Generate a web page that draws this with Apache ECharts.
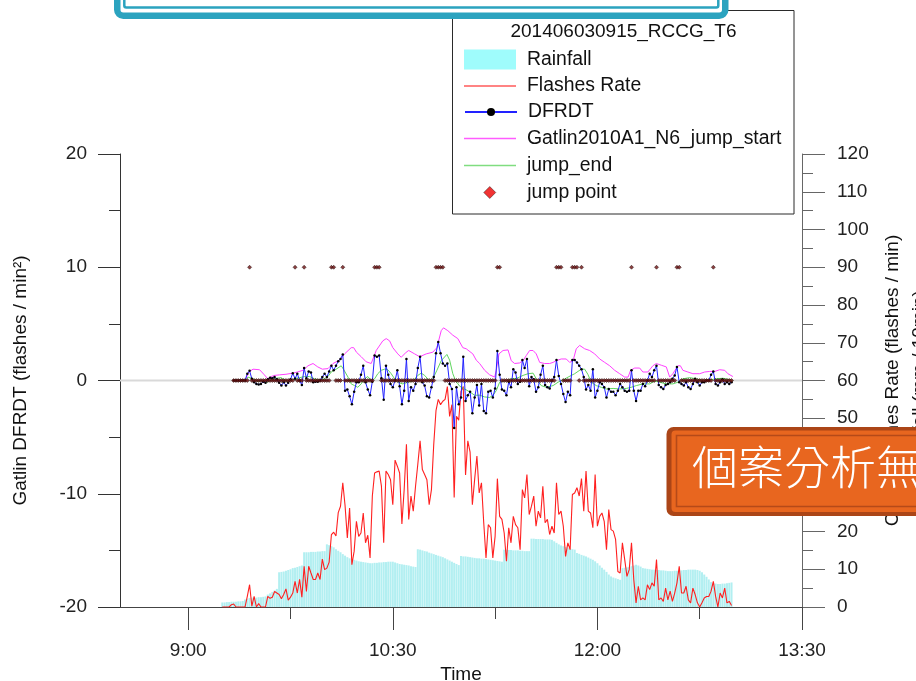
<!DOCTYPE html>
<html>
<head>
<meta charset="utf-8">
<title>201406030915_RCCG_T6</title>
<script src="https://cdn.jsdelivr.net/npm/echarts@6/dist/echarts.min.js"></script>
<style>
  html, body { margin: 0; padding: 0; background: #ffffff; }
  #chart { width: 916px; height: 681px; }
</style>
</head>
<body>
<div id="chart"></div>
<script>
// Times are minutes after 09:00; one sample per minute unless paired with a times array.

// Rainfall (mm / 10min), one value per minute starting 09:15
const rainStart = 15;
const rainfall = [
  1.2, 1.2, 1.3, 1.3, 1.4, 1.4, 1.4, 1.5, 1.5, 1.6,
  2.0, 2.2, 2.4, 2.5, 2.5, 2.5, 2.6, 2.6, 2.7, 2.8,
  3.3, 3.6, 4.0, 4.4, 4.8, 9.2, 9.3, 9.4, 9.6, 9.8,
  10.0, 10.3, 10.4, 10.6, 10.8, 11.0, 14.5, 14.5, 14.5, 14.6,
  14.6, 14.6, 14.7, 14.7, 14.8, 14.8, 16.6, 16.4, 16.1, 15.8,
  15.3, 14.9, 14.5, 14.0, 13.6, 13.2, 12.9, 12.7, 12.5, 12.3,
  12.1, 12.0, 11.9, 11.8, 11.7, 11.6, 11.6, 11.7, 11.7, 11.8,
  11.8, 11.9, 11.9, 12.0, 12.0, 12.0, 11.8, 11.6, 11.4, 11.3,
  11.2, 11.1, 11.0, 10.8, 10.7, 10.6, 15.3, 15.2, 15.0, 14.8,
  14.7, 14.4, 14.2, 14.0, 13.8, 13.6, 13.4, 13.2, 12.9, 12.6,
  12.3, 12.0, 11.7, 11.4, 11.1, 13.5, 13.4, 13.4, 13.3, 13.2,
  13.1, 13.0, 12.9, 12.9, 12.8, 12.8, 12.7, 12.6, 12.5, 12.4,
  12.3, 12.2, 12.1, 12.0, 15.2, 15.2, 15.1, 15.1, 15.0, 15.0,
  15.0, 14.9, 14.9, 14.8, 14.8, 14.8, 18.1, 18.1, 18.0, 18.0,
  18.0, 18.0, 17.9, 17.9, 17.9, 17.8, 17.4, 17.0, 16.6, 16.3,
  16.1, 15.9, 15.7, 15.5, 15.3, 15.2, 14.3, 14.1, 13.8, 13.6,
  13.4, 13.1, 12.8, 12.5, 12.1, 11.6, 11.0, 10.4, 9.9, 9.3,
  8.6, 8.1, 7.8, 7.6, 7.4, 7.2, 10.3, 10.4, 10.5, 10.6,
  10.8, 11.0, 11.2, 11.0, 10.7, 10.3, 10.2, 10.1, 10.0, 9.9,
  9.9, 9.8, 9.8, 9.7, 9.7, 9.6, 9.5, 9.5, 9.5, 9.6,
  9.6, 9.7, 9.7, 9.8, 9.8, 9.9, 9.9, 9.9, 9.9, 9.8,
  9.6, 9.2, 8.6, 8.0, 7.3, 6.6, 6.3, 6.2, 6.1, 6.1,
  6.2, 6.2, 6.3, 6.4, 6.5
];

// Flashes rate (flashes / min), one value per minute starting 09:15
const flashStart = 15;
const flashRate = [
  0, 0, 0, 0, 0.6, 0.8, 0, 0, 0, 0,
  0, 2.8, 5.9, 0.2, 2.8, 0, 0.9, 0, 0, 0,
  2.8, 2.3, 2.6, 4.1, 3.7, 3.3, 2.2, 3.3, 4.8, 1.8,
  2.6, 3.7, 6.8, 3.7, 7.3, 2.6, 10.8, 4.1, 10.8, 9.0,
  7.3, 7.3, 9.0, 7.3, 12.7, 9.9, 10.3, 11.9, 19.2, 19.8,
  18.8, 25.0, 26.7, 32.9, 26.9, 18.3, 26.2, 11.2, 14.8, 22.7,
  18.7, 19.6, 24.9, 17.0, 19.0, 13.0, 29.4, 35.5, 35.8, 36.0,
  32.0, 17.0, 36.0, 35.1, 33.7, 27.1, 38.9, 37.3, 35.5, 22.0,
  31.1, 43.1, 23.2, 29.4, 25.4, 32.0, 37.8, 44.0, 36.4, 35.1,
  33.7, 27.1, 31.1, 43.0, 52.0, 55.0, 53.6, 54.5, 55.0, 58.4,
  50.5, 53.6, 29.0, 50.5, 49.5, 57.1, 58.4, 35.0, 44.0, 41.0,
  27.1, 33.8, 40.0, 30.2, 32.9, 22.3, 13.0, 21.8, 21.0, 13.0,
  18.7, 34.0, 24.0, 23.2, 19.6, 12.1, 21.0, 17.0, 24.0, 21.8,
  21.0, 15.2, 31.1, 28.9, 35.1, 24.5, 26.7, 29.4, 21.4, 25.4,
  23.6, 32.0, 22.3, 23.2, 19.2, 21.4, 19.6, 32.9, 24.5, 25.4,
  21.4, 13.4, 17.0, 15.2, 29.8, 30.2, 31.6, 29.4, 34.0, 25.4,
  36.0, 25.4, 24.9, 21.0, 35.1, 21.4, 24.0, 24.9, 22.7, 15.2,
  25.8, 20.5, 20.1, 17.9, 9.4, 9.0, 17.0, 12.6, 8.1, 9.9,
  17.0, 7.3, 1.1, 5.5, 1.9, 2.4, 1.9, 5.9, 4.6, 6.4,
  5.5, 12.6, 1.9, 2.4, 1.5, 5.0, 1.9, 4.2, 1.5, 3.7,
  6.4, 10.8, 3.7, 3.7, 5.5, 1.9, 1.1, 5.0, 3.3, 1.1,
  0, 1.1, 2.4, 2.8, 2.8, 4.2, 6.8, 2.8, 0, 3.7,
  2.4, 5.0, 1.1, 1.5, 0.4
];

// Gatlin DFRDT (flashes / min^2), one value per minute starting 09:20
const dfrdtStart = 20;
const dfrdt = [
  0, 0, 0, 0, 0, 0, 0.6, 0.85, 0.15, -0.15,
  -0.3, -0.35, -0.3, -0.1, -0.2, 0.1, 0.25, 0.2, 0.3, 0.1,
  -0.2, -0.45, -0.15, -0.45, -0.2, 0.1, 0.65, 0.15, 0.6, 0,
  -0.4, 1.1, 0.2, 0.8, 0.7, -0.15, -0.1, -0.1, 0, 0.3,
  0.6, 0.3, 0.8, 1.3, 0.9, 1.3, 1.7, 1.9, 2.3, -0.9,
  -0.8, -1.4, -2.1, -1.0, -0.15, -0.15, 0.5, 1.3, -0.15, -0.8,
  -1.3, -0.1, 2.2, 2.1, 2.2, 0.2, -1.7, 1.3, 0.5, -0.3,
  -0.6, 0, 0.9, -0.5, -2.1, -0.9, 1.9, -1.8, -0.6, -0.9,
  -0.3, 1.1, 2.1, -0.15, -0.45, -1.4, -1.5, -0.6, 0.3, 2.4,
  3.4, 2.4, 1.5, 1.3, 1.5, -0.3, -0.75, -4.2, -0.6, -2.1,
  -1.5, 2.1, -1.8, -1.3, -1.0, -2.9, -1.5, -0.4, -2.2, -0.3,
  -2.7, -2.9, -1.0, -0.9, -1.5, -0.7, 2.6, 0.5, -0.8, -0.9,
  -1.3, -0.1, -0.6, 1.0, 0.7, -0.3, -0.1, 1.8, 1.1, 1.9,
  -0.5, 0.3, 0.1, -1.0, -0.6, 0.5, 1.3, -0.4, -0.6, -0.7,
  0, 0.3, 1.8, 0.4, -0.3, -1.2, -1.9, -1.0, -1.3, 1.8,
  1.8, 1.6, 1.3, 1.0, 0.3, -0.8, -0.4, -0.9, 1.0, -1.5,
  -0.9, -0.15, -0.3, -0.6, -1.5, -0.75, -1.0, -1.0, -1.3, -0.9,
  -0.3, -0.6, -0.9, -1.0, -0.9, 0.9, -0.9, -1.8, -0.9, -0.9,
  -0.3, -0.5, 0, 0.6, 0.3, 0.9, 1.3, -0.4, -0.6, -0.75,
  -0.4, -0.3, -0.15, 0.15, 0.45, 1.2, -0.15, -0.3, -0.45, -0.15,
  -0.6, -0.75, -0.3, 0.15, -0.15, -0.45, -0.15, -0.15, 0, 0,
  0.5, 0.8, -0.3, -0.45, -0.15, 0.1, -0.3, -0.15, -0.3, -0.15
];

// Gatlin2010A1_N6 jump start threshold
const gatlinTimes = [
  25, 26.7, 28.5, 31.4, 33.5, 35, 36.5, 38, 40.2, 43, 46, 48, 50.5, 52.7, 54.9, 57, 59, 61.5,
  63.7, 66.6, 68.8, 71.7, 72.8, 74, 76.1, 78.3, 80.5, 81.3, 82.7, 85.6, 87.1, 88.6, 90, 92.2,
  93.7, 95.9, 97, 99.6, 101.8, 104.7, 107.6, 109.4, 111.3, 112.3, 114.2, 116.4, 118.6, 120.8,
  122.3, 125.2, 126.7, 128.2, 130.4, 132.6, 134.8, 135.5, 136.7, 138.5, 140.7, 142.1, 143.6,
  145.8, 147.3, 148.7, 150.2, 151.7, 153.1, 154.6, 156.8, 159, 160.5, 161.9, 164.1, 166.3,
  167.8, 169.3, 170.7, 172.2, 174.4, 176.6, 178.8, 181, 183.2, 185.4, 187.6, 189.8, 192,
  193.5, 194.6, 196.4, 198.6, 200, 202.2, 204.4, 205.9, 208.1, 210.3, 211.8, 213.2, 215.4,
  216.5, 217.6, 219.8, 222, 225, 227.2, 229.4, 231.6, 233.8, 236, 237.4, 239.6
];
const gatlinValues = [
  0, 0.75, 1.0, 0.95, 0.5, 0.15, 0.35, 0.45, 0.5, 0.55, 0.65, 0.75, 0.9, 1.3, 1.5, 1.2, 1.0, 1.05,
  1.5, 1.8, 2.35, 2.9, 2.9, 2.5, 2.1, 1.65, 1.5, 1.5, 2.65, 3.5, 3.7, 3.5, 2.9, 2.35,
  2.05, 2.5, 2.65, 2.35, 2.1, 2.35, 2.5, 2.9, 4.4, 4.65, 4.4, 4.0, 3.7, 2.9,
  2.8, 2.35, 1.8, 1.5, 0.9, 0.5, 0.3, 0.9, 2.35, 2.65, 2.7, 1.75, 1.5,
  1.55, 1.75, 2.2, 2.65, 2.65, 2.35, 1.6, 1.5, 1.5, 1.6, 1.75, 1.9, 1.9,
  1.6, 1.75, 2.8, 3.1, 2.8, 2.65, 2.35, 1.9, 1.6, 1.3, 0.9, 0.6, 0.3,
  0.3, 0.9, 1.1, 1.1, 0.75, 0.75, 1.3, 1.5, 1.35, 1.2, 0.3, 0.6, 1.3,
  1.3, 0.9, 0.75, 0.6, 0.6, 0.75, 0.8, 0.8, 0.95, 0.9, 0.6, 0.35
];

// jump end threshold
const jumpEndTimes = [
  25, 26.3, 28.5, 30.7, 32.1, 34.3, 36.5, 38.7, 40.9, 43.1, 45.3, 47.5, 49, 51.2, 53.4, 55.6,
  57.8, 60, 61.5, 62.9, 65.1, 67.3, 68.3, 70.3, 71.7, 73.2, 74.6, 76.1, 77.6, 79, 80.5, 82,
  83.4, 84.9, 86.4, 87.8, 89.3, 90.8, 92.2, 94.4, 96.6, 98.8, 101, 102.5, 104, 106.2, 107.6,
  109.4, 111.3, 113.8, 115, 116.4, 117.6, 119.4, 121.6, 123.8, 126, 128.2, 130.4, 132.6,
  134.1, 135.5, 137, 139.9, 142.1, 144.6, 147.3, 149.5, 151.7, 153.1, 155.3, 157.5, 160.5,
  162.7, 164.9, 167.1, 170, 172.9, 174.4, 175.8, 177.3, 179.5, 181.7, 183.9, 186.9, 189.8,
  192.7, 194.9, 197.1, 200, 203, 205.2, 207.4, 210.3, 213.2, 215.4, 217.6, 220.6, 223.5,
  226.4, 229.4, 232.3, 235.2, 239.6
];
const jumpEndValues = [
  0, 0.3, 0.15, -0.1, 0, -0.2, 0.05, 0.2, 0.25, -0.05, 0, 0.2, 0.25, 0.35, 0.35, 0.15,
  0.05, 0.15, 0.35, 0.75, 1.0, 1.3, 1.0, 0.3, -0.3, -0.45, -0.6, -0.3, 0.15, 0.35, 0, 0.15,
  0.6, 0.9, 1.0, 0.95, 0.6, 0.15, -0.15, -0.3, -0.15, -0.05, 0.45, 0.65, 0.45, -0.05, 0.15,
  0.9, 1.75, 2.3, 1.8, 0.6, 0.0, -0.5, -0.75, -1.0, -1.3, -1.3, -1.45, -1.5,
  -1.3, -0.9, -0.15, 0, 0.15, 0.2, 0.45, 0.6, 0.65, 0.15, -0.45, -0.6, -0.45,
  -0.15, 0.05, 0.3, 0.6, 1.0, 1.0, 0.55, -0.15, -0.45, -0.6, -0.75, -0.7, -0.75,
  -0.7, -0.6, -0.45, -0.3, -0.3, -0.05, -0.15, -0.3, -0.3, -0.15, 0.15, 0.25, 0.15,
  0, 0.05, 0.15, 0.2, 0
];

// Jump flags: sampled every minute from 09:20 to 12:59, raised to 10 at the listed minutes
const flagStart = 20;
const flagEnd = 239;
const jumpMinutes = [27, 47, 51, 63, 64, 68, 82, 83, 84, 109, 110, 111, 112, 136, 137,
  162, 163, 164, 169, 170, 171, 173, 195, 206, 215, 216, 231];
const flagLow = 0;
const flagHigh = 10;

// Axis ticks
const timeTicks = [0, 90, 180, 270];
const timeMinorTicks = [45, 135, 225];

const FONT = '"Liberation Sans", Arial, Helvetica, sans-serif';
const CJK = '"Noto Sans CJK TC", "Noto Sans CJK SC", "Noto Sans CJK JP", sans-serif';

const perMinute = (start, values) => values.map((v, i) => [start + i, v]);
const paired = (times, values) => times.map((t, i) => [t, values[i]]);
const clock = v => {
  const m = 540 + v;
  return Math.floor(m / 60) + ':' + String(m % 60).padStart(2, '0');
};

const flags = [];
for (let t = flagStart; t <= flagEnd; t++) {
  flags.push([t, jumpMinutes.indexOf(t) >= 0 ? flagHigh : flagLow]);
}

const legendText = { fontSize: 19.4, fontFamily: FONT, color: '#111', lineHeight: 20, padding: [0, 0, 0, 6] };
const legendRow = (data, top, extra) => Object.assign({
  data: data, left: 464, top: top, padding: 0, itemWidth: 52, itemHeight: 10,
  selectedMode: false, textStyle: legendText
}, extra || {});

const chart = echarts.init(document.getElementById('chart'), null, { renderer: 'canvas' });

chart.setOption({
  animation: false,
  backgroundColor: '#ffffff',
  textStyle: { fontFamily: FONT },
  grid: { left: 120, right: 114, top: 154, bottom: 74, outerBoundsMode: 'none', containLabel: false },
  xAxis: [
    {
      type: 'value', min: -30, max: 270, position: 'bottom',
      axisLine: { show: true, onZero: false, lineStyle: { color: '#444', width: 1 } },
      axisTick: { show: true, customValues: timeTicks, length: 23, lineStyle: { color: '#444', width: 1 } },
      axisLabel: { show: true, customValues: timeTicks, formatter: clock, margin: 34,
        fontSize: 19, fontFamily: FONT, color: '#222' },
      splitLine: { show: false },
      name: 'Time', nameLocation: 'middle', nameGap: 54,
      nameTextStyle: { fontSize: 19, fontFamily: FONT, color: '#111', lineHeight: 20 }
    },
    {
      type: 'value', min: -30, max: 270, position: 'bottom',
      axisLine: { show: false, onZero: false },
      axisTick: { show: true, customValues: timeMinorTicks, length: 12, lineStyle: { color: '#444', width: 1 } },
      axisLabel: { show: false },
      splitLine: { show: false }
    }
  ],
  yAxis: [
    {
      type: 'value', min: -20, max: 20, interval: 10, position: 'left',
      axisLine: { show: true, onZero: false, lineStyle: { color: '#333', width: 1 } },
      axisTick: { show: true, length: 22, lineStyle: { color: '#333', width: 1 } },
      minorTick: { show: true, splitNumber: 2, length: 11, lineStyle: { color: '#333', width: 1 } },
      axisLabel: { margin: 33, fontSize: 19, fontFamily: FONT, color: '#222' },
      splitLine: { show: false },
      name: 'Gatlin DFRDT (flashes / min²)', nameLocation: 'middle', nameGap: 89,
      nameTextStyle: { fontSize: 19, fontFamily: FONT, color: '#111', lineHeight: 20 }
    },
    {
      type: 'value', min: 0, max: 120, interval: 10, position: 'right',
      axisLine: { show: true, onZero: false, lineStyle: { color: '#666', width: 1 } },
      axisTick: { show: true, length: 23, lineStyle: { color: '#666', width: 1 } },
      minorTick: { show: true, splitNumber: 2, length: 11, lineStyle: { color: '#666', width: 1 } },
      axisLabel: { margin: 35, fontSize: 19, fontFamily: FONT, color: '#222' },
      splitLine: { show: false },
      name: 'Cloud Flashes Rate (flashes / min)\nRainfall (mm / 10min)',
      nameLocation: 'middle', nameGap: 66,
      nameTextStyle: { fontSize: 19, fontFamily: FONT, color: '#111', lineHeight: 27 }
    }
  ],
  legend: [
    legendRow([{ name: 'Rainfall', icon: 'rect', itemStyle: { color: '#9ffcfc' } }], 49.5, { itemHeight: 20 }),
    legendRow([{ name: 'Flashes Rate', icon: 'rect', itemStyle: { color: '#ff5a5a' } }], 76, { itemHeight: 1.4 }),
    legendRow(['DFRDT'], 102, { itemHeight: 10 }),
    legendRow([{ name: 'Gatlin2010A1_N6_jump_start', icon: 'rect', itemStyle: { color: '#ff5cff' } }], 128.5, { itemHeight: 1.4 }),
    legendRow([{ name: 'jump_end', icon: 'rect', itemStyle: { color: '#80dd80' } }], 155.5, { itemHeight: 1.4 }),
    legendRow([{ name: 'jump point', icon: 'diamond',
      itemStyle: { color: '#ee0000', borderColor: '#000', borderWidth: 0.5 } }], 182.5,
      { left: 483.5, itemWidth: 12, itemHeight: 12,
        textStyle: Object.assign({}, legendText, { padding: [0, 0, 0, 26.5] }) })
  ],
  graphic: {
    elements: [
      // legend frame and title
      { type: 'rect', z: 1, shape: { x: 452.5, y: 10.5, width: 341.5, height: 203.5 },
        style: { fill: '#ffffff', stroke: '#2a2a2a', lineWidth: 1 } },
      { type: 'text', z: 2, style: { x: 623.5, y: 32, text: '201406030915_RCCG_T6',
        font: '19px ' + FONT, fill: '#111', align: 'center', verticalAlign: 'middle' } },
      // slide title frame
      { type: 'rect', z: 20, shape: { x: 117.25, y: -50, width: 608, height: 65.75, r: 6 },
        style: { fill: '#ffffff', stroke: '#2ba3bf', lineWidth: 6.5 } },
      { type: 'rect', z: 21, shape: { x: 124.3, y: -50, width: 594, height: 57.5, r: 2 },
        style: { fill: 'none', stroke: '#2ba3bf', lineWidth: 2.5 } },
      // orange caption box
      { type: 'rect', z: 30, shape: { x: 666.5, y: 427, width: 300, height: 89, r: 7 },
        style: { fill: '#ab4517' } },
      { type: 'rect', z: 31, shape: { x: 671.5, y: 430.5, width: 300, height: 81.5, r: 4 },
        style: { fill: '#e8661f' } },
      { type: 'rect', z: 32, shape: { x: 676.5, y: 435.5, width: 300, height: 71 },
        style: { fill: 'none', stroke: '#b54a19', lineWidth: 1.6 } },
      { type: 'text', z: 33, style: { x: 692, y: 467, text: '個案分析無',
        font: '300 46px ' + CJK, fill: '#ffffff', align: 'left', verticalAlign: 'middle' } }
    ]
  },
  series: [
    {
      name: 'Rainfall', type: 'bar', xAxisIndex: 0, yAxisIndex: 1,
      data: perMinute(rainStart, rainfall), barWidth: 2,
      itemStyle: { color: '#b2eff1' }, z: 1, silent: true
    },
    {
      name: 'zero', type: 'line', xAxisIndex: 0, yAxisIndex: 0,
      data: [[-30, 0], [270, 0]], symbol: 'none',
      lineStyle: { color: '#d9d9d9', width: 2 }, z: 1, silent: true
    },
    {
      name: 'Flashes Rate', type: 'line', xAxisIndex: 0, yAxisIndex: 1,
      data: perMinute(flashStart, flashRate), symbol: 'none',
      lineStyle: { color: '#ff2020', width: 1.1 }, itemStyle: { color: '#ff2020' }, z: 2
    },
    {
      name: 'jump_end', type: 'line', xAxisIndex: 0, yAxisIndex: 0,
      data: paired(jumpEndTimes, jumpEndValues), symbol: 'none',
      lineStyle: { color: '#5fd65f', width: 1 }, itemStyle: { color: '#5fd65f' }, z: 3
    },
    {
      name: 'Gatlin2010A1_N6_jump_start', type: 'line', xAxisIndex: 0, yAxisIndex: 0,
      data: paired(gatlinTimes, gatlinValues), symbol: 'none',
      lineStyle: { color: '#ff40ff', width: 1 }, itemStyle: { color: '#ff40ff' }, z: 3
    },
    {
      name: 'DFRDT', type: 'line', xAxisIndex: 0, yAxisIndex: 0,
      data: perMinute(dfrdtStart, dfrdt), symbol: 'circle', symbolSize: 2.5, showSymbol: true,
      lineStyle: { color: '#2222ff', width: 1 }, itemStyle: { color: '#000000' }, z: 5
    },
    {
      name: 'jump point', type: 'scatter', xAxisIndex: 0, yAxisIndex: 0,
      data: flags, symbol: 'diamond', symbolSize: 4,
      itemStyle: { color: '#6e1010', borderColor: '#1a0000', borderWidth: 0.6 }, z: 6
    }
  ]
});
</script>
</body>
</html>
